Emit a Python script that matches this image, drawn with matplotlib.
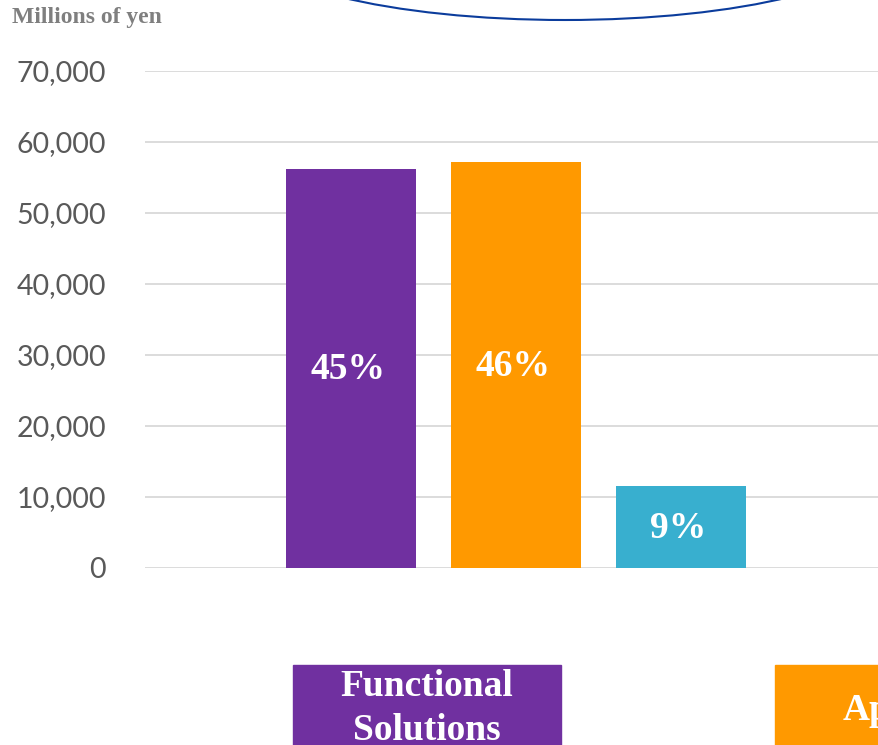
import matplotlib
matplotlib.use("Agg")
import matplotlib.pyplot as plt
from matplotlib.patches import Ellipse, Rectangle

# data
categories = ["A", "B", "C"]
values = [56200, 57200, 11550]
shares = ["45%", "46%", "9%"]
colors = ["#7030A0", "#FF9900", "#38AFCF"]
yticks = [0, 10000, 20000, 30000, 40000, 50000, 60000, 70000]

W, H = 879, 745
fig = plt.figure(figsize=(W / 100, H / 100), dpi=100)

# overlay in pixel coords for the slide decorations
deco = fig.add_axes([0, 0, 1, 1])
deco.set_xlim(0, W)
deco.set_ylim(H, 0)
deco.axis("off")
deco.add_patch(Ellipse((565, -60), 640, 160, fill=False, edgecolor="#0B3C9C", lw=1.5))
deco.add_patch(Rectangle((293, 665), 268, 90, color="#7030A0"))
deco.add_patch(Rectangle((775, 665), 268, 90, color="#FF9900"))
deco.text(427, 687, "Functional", ha="center", va="center", color="white",
          fontsize=27, fontweight="bold", family="Liberation Serif")
deco.text(427, 731, "Solutions", ha="center", va="center", color="white",
          fontsize=27, fontweight="bold", family="Liberation Serif")
deco.text(843, 710, "Applications", ha="left", va="center", color="white",
          fontsize=27, fontweight="bold", family="Liberation Serif", clip_on=True)
deco.text(12, 17, "Millions of yen", ha="left", va="center", color="#7F7F7F",
          fontsize=17, fontweight="bold", family="Liberation Serif")

ax = fig.add_axes([145 / W, 1 - 568 / H, 1 - 145 / W, (568 - 71) / H])
ax.set_facecolor("none")
x = list(range(len(categories)))
bars = ax.bar(x, values, width=130 / 165, color=colors, zorder=3)
for xi, v, s in zip(x, values, shares):
    ax.text(xi - 0.02, v / 2 - 150, s, ha="center", va="center", color="white",
            fontsize=27, fontweight="bold", family="Liberation Serif", zorder=4)

ax.set_xlim(-(351 - 145) / 165, -(351 - 145) / 165 + (W - 145) / 165)
ax.set_ylim(0, 70000)
ax.set_yticks(yticks)
ax.set_yticklabels([f"{t:,}" for t in yticks], family="Lato", fontsize=20.5, color="#595959")
ax.tick_params(axis="y", length=0, pad=28)
ax.set_xticks([])
ax.grid(axis="y", color="#D9D9D9", lw=1.3, zorder=0)
for sp in ax.spines.values():
    sp.set_visible(False)

fig.savefig("out.png", dpi=100)
